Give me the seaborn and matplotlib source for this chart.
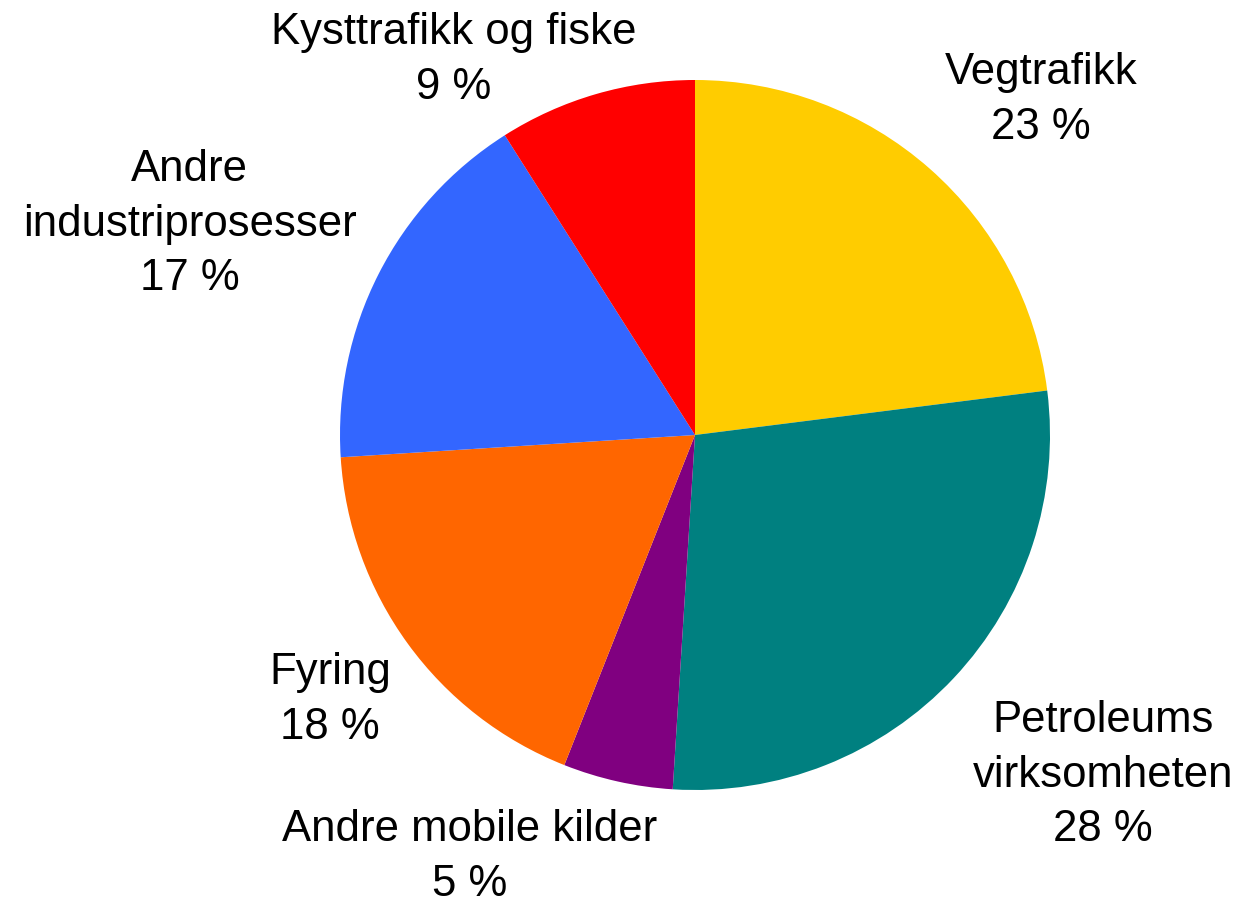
import matplotlib.pyplot as plt
import seaborn as sns

sns.set_theme(style="white")
plt.rcParams["font.family"] = ["Liberation Sans", "DejaVu Sans"]

# shares clockwise from 12 o'clock
labels = ["Vegtrafikk", "Petroleums\nvirksomheten", "Andre mobile kilder",
          "Fyring", "Andre\nindustriprosesser", "Kysttrafikk og fiske"]
shares = [23, 28, 5, 18, 17, 9]
colors = ["#FFCC00", "#008080", "#800080", "#FF6600", "#3366FF", "#FF0000"]

# label centres, in units of pie radius
label_x = [0.975, 1.149, -0.634, -1.028, -1.423, -0.679]
label_y = [0.944, -0.958, -1.189, -0.746, 0.594, 1.056]

fig = plt.figure(figsize=(12.44, 9.05), dpi=100)
ax = fig.add_axes([0, 0, 1, 1])

ax.pie(
    shares,
    colors=colors,
    startangle=90,
    counterclock=False,
    radius=1,
    wedgeprops=dict(linewidth=0),
)

for lab, val, x, y in zip(labels, shares, label_x, label_y):
    ax.text(x, y, f"{lab}\n{val} %", ha="center", va="center",
            fontsize=31.5, linespacing=1.42, color="black")

ax.set_aspect("auto")
ax.set_xlim(-695 / 355, (1244 - 695) / 355)
ax.set_ylim(-(905 - 435) / 355, 435 / 355)
ax.axis("off")

fig.savefig("out.png", dpi=100, facecolor="white")
